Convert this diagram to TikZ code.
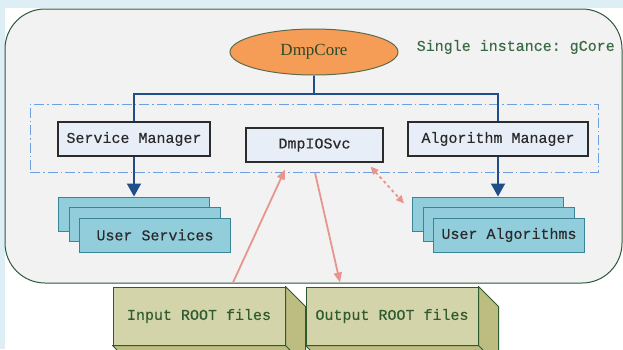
\documentclass[tikz,border=0pt]{standalone}
\usepackage{fontspec}
\setmainfont{Liberation Serif}
\setmonofont[FakeBold=0.4]{Liberation Mono}
\usepackage{xcolor}
\usetikzlibrary{arrows.meta,positioning,shapes,calc}

\definecolor{bgblue}{HTML}{DDEEF4}
\definecolor{panel}{HTML}{F2F2F2}
\definecolor{outline}{HTML}{2E5A3C}
\definecolor{corefill}{HTML}{F59D56}
\definecolor{coreline}{HTML}{5B6B4E}
\definecolor{coretext}{HTML}{2C4A2A}
\definecolor{notetext}{HTML}{3A6A45}
\definecolor{linkblue}{HTML}{1F4E8A}
\definecolor{boxfill}{HTML}{E8EEF7}
\definecolor{boxline}{HTML}{2B2B2B}
\definecolor{boxtext}{HTML}{2A2A2A}
\definecolor{usrfill}{HTML}{92CDDC}
\definecolor{usrline}{HTML}{3B8498}
\definecolor{dashblue}{HTML}{6E9FE0}
\definecolor{iopink}{HTML}{E8958E}
\definecolor{filefill}{HTML}{D3D4A9}
\definecolor{fileside}{HTML}{BDBD82}
\definecolor{fileline}{HTML}{2F5A2F}

\begin{document}
\begin{tikzpicture}[x=1pt, y=-1pt, thick]
    \tikzstyle{mono} = [font=\ttfamily\fontsize{15}{17}\selectfont]
    \tikzstyle{mgr} = [mono, draw=boxline, fill=boxfill, line width=1.1pt, minimum height=34pt, text=boxtext]
    \tikzstyle{usr} = [mono, draw=usrline, fill=usrfill, line width=1pt, minimum width=151pt, minimum height=34pt, text=boxtext]
    \tikzstyle{file} = [mono, draw=fileline, fill=filefill, line width=1pt, minimum width=172pt, minimum height=58pt, text=fileline]
    \tikzstyle{depth} = [draw=fileline, fill=fileside, line width=1pt, line join=round]
    \tikzstyle{link} = [draw=linkblue, line width=2pt]
    \tikzstyle{io} = [draw=iopink, line width=1.8pt, -{Triangle[length=10pt,width=8pt]}]

    \useasboundingbox (0,0) rectangle (623,349);
    \clip (0,0) rectangle (623,349);
    \fill [bgblue] (0,0) rectangle (623,349);
    \fill [white] (5,8) rectangle (623,349);
    \draw [outline, fill=panel, line width=1pt, rounded corners=40pt] (5,9) rectangle (622,283);

    \node [draw=dashblue, line width=0.9pt, dash pattern=on 10pt off 3pt on 1.5pt off 3pt, minimum width=568pt, minimum height=68pt] (layer) at (314,138) {};

    \node [ellipse, draw=coreline, fill=corefill, line width=1pt, minimum width=168pt, minimum height=46pt, font=\fontsize{17}{20}\selectfont, text=coretext] (core) at (314,52) {DmpCore};
    \node [mono, text=notetext, anchor=west] (note) at (413,47) {Single instance: gCore};

    \node [mgr, minimum width=152pt] (svcmgr) at (134,139) {Service Manager};
    \node [mgr, minimum width=137pt] (iosvc) at (314.5,145) {DmpIOSvc};
    \node [mgr, minimum width=180pt] (algmgr) at (498,139) {Algorithm Manager};

    \node [usr] (svcback) at (134,214) {};
    \node [usr] (svcmid) at (144.5,224.5) {};
    \node [usr] (svc) at (155,235) {User Services};
    \node [usr] (algback) at (488,214) {};
    \node [usr] (algmid) at (498.5,224.5) {};
    \node [usr] (alg) at (509,235) {User Algorithms};

    \coordinate (split) at (314,94);
    \draw [link] (core.south) -- (split);
    \draw [link] (svcmgr.north) |- (split) -| (algmgr.north);
    \draw [link, -{Triangle[width=14pt,length=13pt]}] (svcmgr.south) -- (svcmgr.south |- svcback.north);
    \draw [link, -{Triangle[width=14pt,length=13pt]}] (algmgr.south) -- (algmgr.south |- algback.north);

    \node [file] (inroot) at (199,316) {Input ROOT files};
    \draw [depth] (inroot.north east) -- ++(20,20) -- ($(inroot.south east)+(20,20)$) -- ($(inroot.south west)+(20,20)$) -- (inroot.south west) -- (inroot.south east) -- cycle;
    \draw [depth] (inroot.south east) -- ++(20,20);
    \node [file] (outroot) at (392,316) {Output ROOT files};
    \draw [depth] (outroot.north east) -- ++(20,20) -- ($(outroot.south east)+(20,20)$) -- ($(outroot.south west)+(20,20)$) -- (outroot.south west) -- (outroot.south east) -- cycle;
    \draw [depth] (outroot.south east) -- ++(20,20);

    \draw [io] ($(inroot.north)+(34,-4)$) -- ($(iosvc.south)+(-29.5,7)$);
    \draw [io] ($(iosvc.south)+(0.5,10)$) -- ($(outroot.north)+(-52,-4)$);
    \draw [io, dashed, {Triangle[length=8pt,width=7pt]}-{Triangle[length=8pt,width=7pt]}] ($(iosvc.south east)+(-13,4)$) -- ($(algback.north west)+(-8,7)$);
\end{tikzpicture}
\end{document}
